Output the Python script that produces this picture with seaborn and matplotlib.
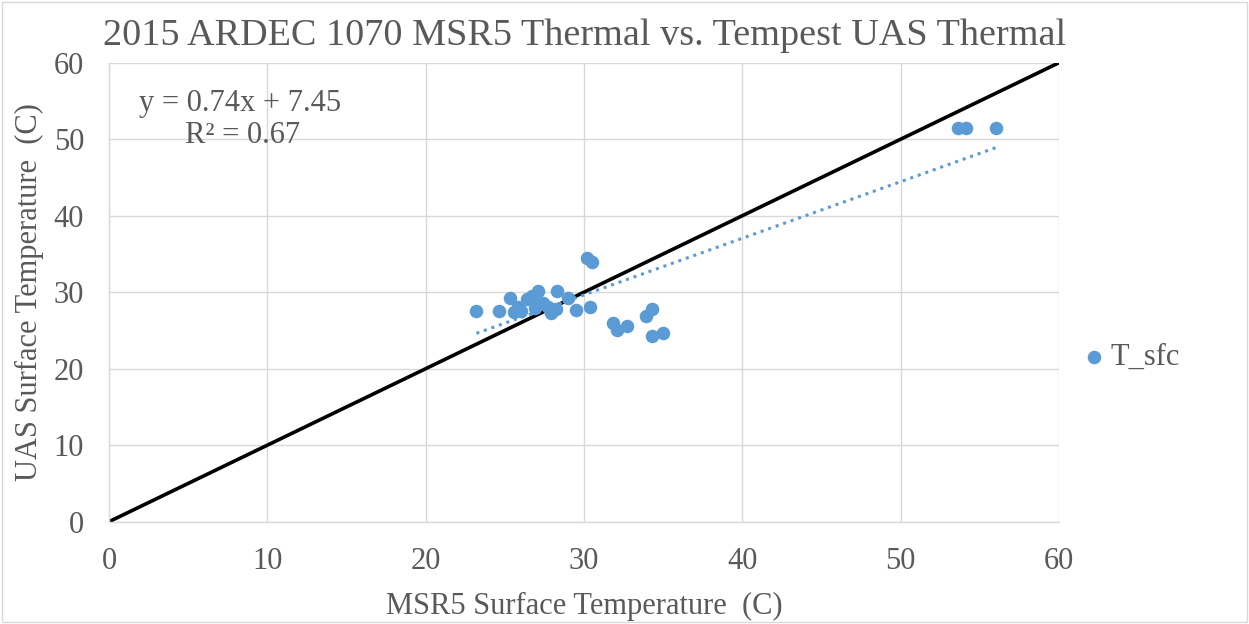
import matplotlib
matplotlib.use("Agg")
import matplotlib.pyplot as plt
import seaborn as sns
import numpy as np
import pandas as pd

# Data
msr5_temp = [23.2, 24.6, 25.3, 25.8, 26.4, 26.7, 27.1, 27.4, 27.7, 27.9, 28.2, 28.3,
             29.0, 29.5, 30.2, 30.5, 30.4, 31.8, 32.1, 32.7, 33.9, 34.3, 34.3, 35.0,
             26.0, 26.9, 25.6, 53.6, 54.1, 56.0]
uas_temp = [27.5, 27.5, 29.2, 28.0, 29.1, 29.5, 30.2, 28.6, 28.0, 27.3, 27.8, 30.2,
            29.3, 27.7, 34.4, 33.9, 28.0, 26.0, 25.0, 25.6, 26.9, 27.8, 24.3, 24.6,
            27.6, 27.9, 27.4, 51.5, 51.5, 51.5]
series_name = "T_sfc"
trend_slope = 0.74
trend_intercept = 7.45
r_squared = 0.67
one_to_one = [0, 60]
x_ticks = [0, 10, 20, 30, 40, 50, 60]
y_ticks = [0, 10, 20, 30, 40, 50, 60]
title = "2015 ARDEC 1070 MSR5 Thermal vs. Tempest UAS Thermal"
x_label = "MSR5 Surface Temperature  (C)"
y_label = "UAS Surface Temperature  (C)"

sns.set_style("white")
plt.rcParams['font.family'] = ['Liberation Serif', 'DejaVu Serif']

text_color = "#595959"
fig = plt.figure(figsize=(12.49, 6.24), dpi=100)
ax = fig.add_axes([0.0873, 0.164, 0.7607, 0.7356])

df = pd.DataFrame({"x": msr5_temp, "y": uas_temp})

# 1:1 line
ax.plot(one_to_one, one_to_one, color="black", lw=2.6, zorder=2)

# trendline over data range
tx = np.array([min(msr5_temp), max(msr5_temp)])
ax.plot(tx, trend_slope * tx + trend_intercept, linestyle=(0, (1, 1.6)),
        color="#5b9bd5", lw=2.2, zorder=3)

sns.scatterplot(data=df, x="x", y="y", ax=ax, color="#5b9bd5", s=95,
                edgecolor="#5b9bd5", linewidth=0, label=series_name, zorder=4)

ax.set_xlim(0, 60)
ax.set_ylim(0, 60)
ax.set_xticks(x_ticks)
ax.set_yticks(y_ticks)
ax.grid(True, color="#d9d9d9", lw=1)
ax.set_axisbelow(True)
for s in ["top", "right"]:
    ax.spines[s].set_visible(False)
for s in ["left", "bottom"]:
    ax.spines[s].set_color("#d9d9d9")
    ax.spines[s].set_linewidth(1)
ax.tick_params(axis="both", length=0, labelsize=22, colors=text_color)
ax.tick_params(axis="x", pad=18)
ax.tick_params(axis="y", pad=18)

ax.set_title(title, fontsize=27.5, color=text_color, pad=13)
ax.set_xlabel(x_label, fontsize=22, color=text_color, labelpad=12)
ax.set_ylabel(y_label, fontsize=22, color=text_color, labelpad=7)

ax.text(1.9, 54.6, f"y = {trend_slope:.2f}x + {trend_intercept:.2f}", fontsize=22,
        color=text_color, va="center", ha="left")
ax.text(4.8, 50.5, f"R² = {r_squared:.2f}", fontsize=22,
        color=text_color, va="center", ha="left")

leg = ax.legend(loc="center left", bbox_to_anchor=(0.995, 0.357), frameon=False,
                fontsize=22, handlelength=1.0, handletextpad=0.05,
                markerscale=1.0, borderpad=0.3)
for t in leg.get_texts():
    t.set_color(text_color)

# chart border
fig.patches.append(plt.Rectangle((0.002, 0.003), 0.996, 0.994, transform=fig.transFigure,
                                 fill=False, edgecolor="#d9d9d9", lw=1))

fig.savefig("out.png", dpi=100)
